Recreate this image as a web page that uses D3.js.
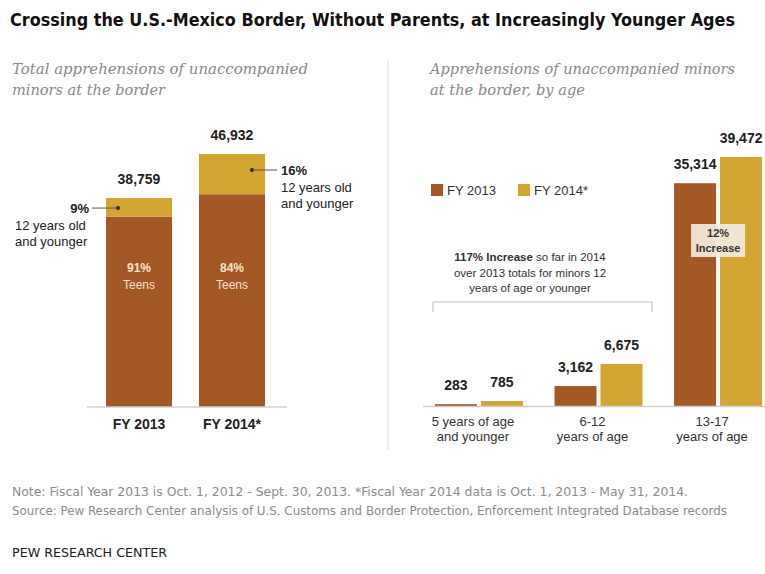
<!DOCTYPE html>
<html>
<head>
<meta charset="utf-8">
<script src="https://cdn.jsdelivr.net/npm/d3@7"></script>
<style>
  body { margin: 0; background: #fff; }
  svg { display: block; }
  text { font-family: "Liberation Sans", Arial, sans-serif; }
</style>
</head>
<body>
<svg id="viz"></svg>
<script>
// values
const seriesNames = ["FY 2013", "FY 2014*"];
const ageGroups = ["5 years of age", "6-12", "13-17"];
const ageGroupSub = ["and younger", "years of age", "years of age"];
const fy2013 = [283, 3162, 35314];
const fy2014 = [785, 6675, 39472];

const brown = "#a35826";
const gold = "#d3a631";

const app = {
    init() {
        const width = 765, height = 574;
        this.svg = d3.select("#viz").attr("width", width).attr("height", height);
        this.drawText();
        this.drawLeft();
        this.drawRight();
    },

    drawText() {
        const svg = this.svg;
        svg.append("text").attr("x", 10).attr("y", 26).attr("textLength", 725).attr("lengthAdjust", "spacingAndGlyphs")
            .style("font-family", "'Liberation Sans Narrow', 'DejaVu Sans Condensed', sans-serif")
            .style("font-weight", "bold").style("font-size", "18px").style("fill", "#111")
            .text("Crossing the U.S.-Mexico Border, Without Parents, at Increasingly Younger Ages");

        const sub = (x, y, len, t) => svg.append("text").attr("x", x).attr("y", y).attr("textLength", len).attr("lengthAdjust", "spacingAndGlyphs")
            .style("font-family", "'DejaVu Serif', 'Liberation Serif', serif").style("font-style", "italic")
            .style("font-size", "15px").style("fill", "#8a8a8a").text(t);
        sub(12, 74, 296, "Total apprehensions of unaccompanied");
        sub(12, 95, 153, "minors at the border");
        sub(430, 74, 305, "Apprehensions of unaccompanied minors");
        sub(430, 95, 155, "at the border, by age");

        svg.append("line").attr("x1", 388).attr("x2", 388).attr("y1", 60).attr("y2", 450).attr("stroke", "#dedede").attr("stroke-width", 1);

        const foot = (y, len, t) => svg.append("text").attr("x", 12).attr("y", y).attr("textLength", len).attr("lengthAdjust", "spacingAndGlyphs")
            .style("font-family", "'Liberation Sans Narrow', 'DejaVu Sans Condensed', sans-serif")
            .style("font-size", "12.5px").style("fill", "#8c8c8c").text(t);
        foot(496, 676, "Note: Fiscal Year 2013 is Oct. 1, 2012 - Sept. 30, 2013. *Fiscal Year 2014 data is Oct. 1, 2013 - May 31, 2014.");
        foot(515, 715, "Source: Pew Research Center analysis of U.S. Customs and Border Protection, Enforcement Integrated Database records");

        svg.append("text").attr("x", 12).attr("y", 557).attr("textLength", 155).attr("lengthAdjust", "spacingAndGlyphs")
            .style("font-family", "'Liberation Sans Narrow', 'DejaVu Sans Condensed', sans-serif")
            .style("font-size", "13px").style("fill", "#222").text("PEW RESEARCH CENTER");
    },

    drawLeft() {
        const svg = this.svg;
        const young = [fy2013[0] + fy2013[1], fy2014[0] + fy2014[1]];
        const teens = [fy2013[2], fy2014[2]];
        const data = seriesNames.map((s, i) => ({ name: s, young: young[i], teens: teens[i], total: young[i] + teens[i] }));

        const x = d3.scaleBand().domain(seriesNames).range([87.4, 283.6]).paddingInner(0.29).paddingOuter(0.2);
        const y = d3.scaleLinear().domain([0, 46932]).range([407, 154]);
        const fmt = d3.format(",");

        const g = svg.append("g");
        g.selectAll(".teen").data(data).enter().append("rect")
            .attr("x", d => x(d.name)).attr("width", x.bandwidth())
            .attr("y", d => y(d.teens)).attr("height", d => y(0) - y(d.teens)).attr("fill", brown);
        g.selectAll(".young").data(data).enter().append("rect")
            .attr("x", d => x(d.name)).attr("width", x.bandwidth())
            .attr("y", d => y(d.total)).attr("height", d => y(d.teens) - y(d.total)).attr("fill", gold);

        g.append("line").attr("x1", 87).attr("x2", 287).attr("y1", y(0)).attr("y2", y(0)).attr("stroke", "#cfcfcf").attr("stroke-width", 1.5);

        g.selectAll(".tot").data(data).enter().append("text")
            .attr("x", d => x(d.name) + x.bandwidth() / 2).attr("y", d => y(d.total) - 14)
            .attr("text-anchor", "middle").style("font-weight", "bold").style("font-size", "14px").style("fill", "#222")
            .text(d => fmt(d.total));

        g.selectAll(".pct").data(data).enter().append("text")
            .attr("x", d => x(d.name) + x.bandwidth() / 2).attr("y", 272)
            .attr("text-anchor", "middle").style("font-weight", "bold").style("font-size", "12px").style("fill", "#f6e3cf")
            .text(d => Math.round(d.teens / d.total * 100) + "%");
        g.selectAll(".teenlbl").data(data).enter().append("text")
            .attr("x", d => x(d.name) + x.bandwidth() / 2).attr("y", 289)
            .attr("text-anchor", "middle").style("font-size", "12px").style("fill", "#f6e3cf").text("Teens");

        g.selectAll(".xl").data(data).enter().append("text")
            .attr("x", d => x(d.name) + x.bandwidth() / 2).attr("y", 429)
            .attr("text-anchor", "middle").style("font-weight", "bold").style("font-size", "14px").style("fill", "#222")
            .text(d => d.name);

        // annotations for the younger share
        data.forEach((d, i) => {
            const dotY = i === 0 ? y(d.total) + 10 : y(d.total) + 16;
            const pct = Math.round(d.young / d.total * 100) + "%";
            if (i === 0) {
                const dx = x(d.name) + 12;
                g.append("circle").attr("cx", dx).attr("cy", dotY).attr("r", 2).attr("fill", "#222");
                g.append("line").attr("x1", 92).attr("x2", dx).attr("y1", dotY).attr("y2", dotY).attr("stroke", "#555");
                g.append("text").attr("x", 89).attr("y", dotY + 4.5).attr("text-anchor", "end")
                    .style("font-weight", "bold").style("font-size", "13px").style("fill", "#222").text(pct);
                g.append("text").attr("x", 15).attr("y", dotY + 21.5).style("font-size", "13px").style("fill", "#222").text("12 years old");
                g.append("text").attr("x", 15).attr("y", dotY + 37.5).style("font-size", "13px").style("fill", "#222").text("and younger");
            } else {
                const dx = x(d.name) + 53;
                g.append("circle").attr("cx", dx).attr("cy", dotY).attr("r", 2).attr("fill", "#222");
                g.append("line").attr("x1", dx).attr("x2", 277).attr("y1", dotY).attr("y2", dotY).attr("stroke", "#555");
                g.append("text").attr("x", 281).attr("y", dotY + 4.5)
                    .style("font-weight", "bold").style("font-size", "13px").style("fill", "#222").text(pct);
                g.append("text").attr("x", 281).attr("y", dotY + 21.5).style("font-size", "13px").style("fill", "#222").text("12 years old");
                g.append("text").attr("x", 281).attr("y", dotY + 37.5).style("font-size", "13px").style("fill", "#222").text("and younger");
            }
        });
    },

    drawRight() {
        const svg = this.svg;
        const data = ageGroups.map((a, i) => ({ group: a, sub: ageGroupSub[i], values: [
            { s: seriesNames[0], v: fy2013[i] }, { s: seriesNames[1], v: fy2014[i] }] }));

        const x0 = d3.scaleBand().domain(ageGroups).range([423, 774]).paddingInner(0.264).paddingOuter(0.1);
        const x1 = d3.scaleBand().domain(seriesNames).range([0, x0.bandwidth()]).paddingInner(0.087);
        const y = d3.scaleLinear().domain([0, 39472]).range([406, 157]);
        const color = d3.scaleOrdinal().domain(seriesNames).range([brown, gold]);
        const fmt = d3.format(",");

        const g = svg.append("g");
        const groups = g.selectAll(".grp").data(data).enter().append("g")
            .attr("transform", d => `translate(${x0(d.group)},0)`);
        groups.selectAll("rect").data(d => d.values).enter().append("rect")
            .attr("x", d => x1(d.s)).attr("width", x1.bandwidth())
            .attr("y", d => y(d.v)).attr("height", d => y(0) - y(d.v)).attr("fill", d => color(d.s));
        groups.selectAll(".val").data(d => d.values).enter().append("text")
            .attr("x", d => x1(d.s) + x1.bandwidth() / 2).attr("y", d => y(d.v) - 14)
            .attr("text-anchor", "middle").style("font-weight", "bold").style("font-size", "14px").style("fill", "#222")
            .text(d => fmt(d.v));

        g.append("line").attr("x1", 423).attr("x2", 765).attr("y1", y(0) + 0.5).attr("y2", y(0) + 0.5).attr("stroke", "#cfcfcf").attr("stroke-width", 1.5);

        groups.append("text").attr("x", x0.bandwidth() / 2 - 6).attr("y", 426).attr("text-anchor", "middle")
            .style("font-size", "13px").style("fill", "#333").text(d => d.group);
        groups.append("text").attr("x", x0.bandwidth() / 2 - 6).attr("y", 441).attr("text-anchor", "middle")
            .style("font-size", "13px").style("fill", "#333").text(d => d.sub);

        // legend
        const leg = g.selectAll(".leg").data(seriesNames).enter().append("g")
            .attr("transform", (d, i) => `translate(${431 + i * 87},184)`);
        leg.append("rect").attr("width", 12).attr("height", 12).attr("fill", d => color(d));
        leg.append("text").attr("x", 16).attr("y", 11).style("font-size", "13px").style("fill", "#333").text(d => d);

        // 12% increase box on the teen group
        const teen = data[2];
        const inc = Math.round((teen.values[1].v - teen.values[0].v) / teen.values[0].v * 100);
        const cx = x0(teen.group) + x0.bandwidth() / 2;
        g.append("rect").attr("x", cx - 27).attr("y", 224).attr("width", 54).attr("height", 33).attr("fill", "#f4eadc").attr("opacity", 0.92);
        g.append("text").attr("x", cx).attr("y", 237).attr("text-anchor", "middle")
            .style("font-weight", "bold").style("font-size", "11px").style("fill", "#333").text(inc + "%");
        g.append("text").attr("x", cx).attr("y", 252).attr("text-anchor", "middle")
            .style("font-weight", "bold").style("font-size", "11px").style("fill", "#333").text("Increase");

        // bracket + annotation for the two younger groups
        const young13 = fy2013[0] + fy2013[1], young14 = fy2014[0] + fy2014[1];
        const incY = Math.round((young14 - young13) / young13 * 100);
        const bx1 = 433, bx2 = 652;
        g.append("path").attr("d", `M${bx1},312V302H${bx2}V312`).attr("fill", "none").attr("stroke", "#bdbdbd");
        const t = g.append("text").attr("x", 530).attr("y", 261).attr("text-anchor", "middle").style("font-size", "11.5px").style("fill", "#333");
        t.append("tspan").style("font-weight", "bold").text(incY + "% Increase");
        t.append("tspan").text(" so far in 2014");
        g.append("text").attr("x", 530).attr("y", 277).attr("text-anchor", "middle").style("font-size", "11.5px").style("fill", "#333").text("over 2013 totals for minors 12");
        g.append("text").attr("x", 530).attr("y", 292).attr("text-anchor", "middle").style("font-size", "11.5px").style("fill", "#333").text("years of age or younger");
    }
};

window.addEventListener("DOMContentLoaded", () => app.init());
</script>
</body>
</html>
